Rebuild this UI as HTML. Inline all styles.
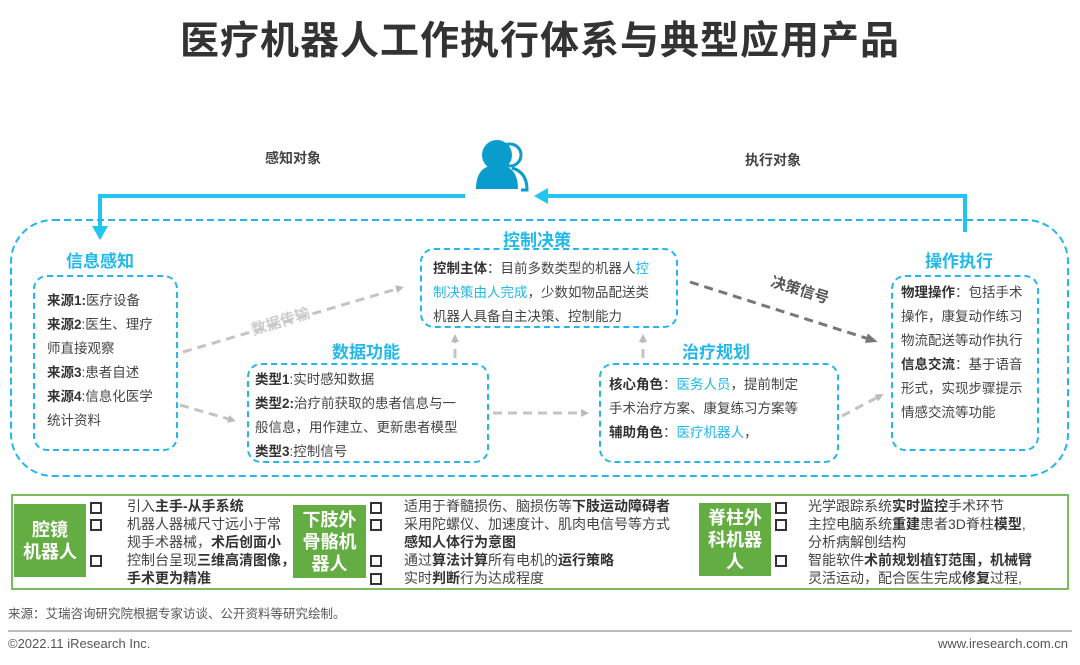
<!DOCTYPE html>
<html><head><meta charset="utf-8"><style>
body{margin:0;width:1080px;height:665px;background:#fff;position:relative;overflow:hidden;font-family:"Liberation Sans","Noto Sans CJK SC",sans-serif;color:#444}
.a{position:absolute}
.t{position:absolute;font-weight:bold;color:#22b8ea;font-size:17px}
.box{position:absolute;border:2px dashed #22b8ea;border-radius:14px;box-sizing:border-box;font-size:13.5px;line-height:24px;color:#444}
b{color:#333}
.bl{color:#22b8ea}
.g{position:absolute;background:#63ad43;color:#fff;font-weight:bold;font-size:18px;line-height:22px;text-align:center;display:flex;align-items:center;justify-content:center}
.l{position:absolute;font-size:14px;line-height:18px;color:#444;white-space:nowrap}
.sq{position:absolute;width:8px;height:8px;border:2px solid #333}
</style></head><body>
<div class="a" style="left:0;top:10px;width:1080px;text-align:center;font-size:39px;font-weight:bold;color:#333;letter-spacing:1px">医疗机器人工作执行体系与典型应用产品</div>
<div class="a" style="left:265px;top:148px;font-size:14px;font-weight:bold;color:#444">感知对象</div>
<div class="a" style="left:745px;top:150px;font-size:14px;font-weight:bold;color:#444">执行对象</div>
<svg class="a" style="left:0;top:0" width="1080" height="500">
<defs><marker id="g" markerWidth="8" markerHeight="8" refX="4" refY="4" orient="auto" markerUnits="userSpaceOnUse"><path d="M0,0L8,4L0,8z" fill="#bbb"/></marker>
<marker id="d" markerWidth="12" markerHeight="10" refX="6" refY="5" orient="auto" markerUnits="userSpaceOnUse"><path d="M0,0L12,5L0,10z" fill="#777"/></marker></defs>
<g fill="#0a9ccc"><circle cx="510" cy="155" r="11" fill="none" stroke="#0a9ccc" stroke-width="3"/><path d="M512,168 q15,4 15,22 h-6" fill="none" stroke="#0a9ccc" stroke-width="3"/>
<circle cx="497" cy="155" r="15"/><path d="M476,189 q0,-24 21,-24 q21,0 21,24 z"/></g>
<path d="M465,196 H100 V228" stroke="#22c5f0" stroke-width="4" fill="none"/>
<path d="M92,226 L108,226 L100,240z" fill="#22c5f0"/>
<path d="M965,232 V196 H545" stroke="#22c5f0" stroke-width="4" fill="none"/>
<path d="M534,196 L548,188 L548,204z" fill="#22c5f0"/>
<rect x="11" y="220" width="1057" height="256" rx="42" fill="none" stroke="#22b8ea" stroke-width="2" stroke-dasharray="7,4"/>
<g stroke="#c4c4c4" stroke-width="3" stroke-dasharray="9,6" fill="none">
<path d="M183,352 L400,288" marker-end="url(#g)"/>
<path d="M180,405 L232,420" marker-end="url(#g)"/>
<path d="M455,358 L455,338" marker-end="url(#g)"/>
<path d="M493,413 L585,413" marker-end="url(#g)"/>
<path d="M643,358 L643,338" marker-end="url(#g)"/>
<path d="M842,416 L880,396" marker-end="url(#g)"/>
</g>
<path d="M690,282 L872,340" stroke="#777" stroke-width="3" stroke-dasharray="9,6" fill="none" marker-end="url(#d)"/>
<text x="250" y="328" transform="rotate(-17 275 320)" font-size="15" font-weight="bold" fill="#ccc" font-family="Liberation Sans,Noto Sans CJK SC,sans-serif">数据传输</text>
<text x="770" y="295" transform="rotate(17 800 290)" font-size="15" font-weight="bold" fill="#555" font-family="Liberation Sans,Noto Sans CJK SC,sans-serif">决策信号</text>
</svg>
<div class="t" style="left:66px;top:247px">信息感知</div>
<div class="box" style="left:33px;top:275px;width:145px;height:176px;padding:12px 0 0 12px"><b>来源1:</b>医疗设备<br><b>来源2</b>:医生、理疗<br>师直接观察<br><b>来源3</b>:患者自述<br><b>来源4</b>:信息化医学<br>统计资料</div>
<div class="t" style="left:503px;top:226px">控制决策</div>
<div class="box" style="left:420px;top:248px;width:258px;height:80px;padding:7px 0 0 11px"><b>控制主体</b>：目前多数类型的机器人<span class="bl">控<br>制决策由人完成</span>，少数如物品配送类<br>机器人具备自主决策、控制能力</div>
<div class="t" style="left:332px;top:338px">数据功能</div>
<div class="box" style="left:247px;top:363px;width:242px;height:100px;padding:3px 0 0 6px"><b>类型1</b>:实时感知数据<br><b>类型2:</b>治疗前获取的患者信息与一<br>般信息，用作建立、更新患者模型<br><b>类型3</b>:控制信号</div>
<div class="t" style="left:682px;top:338px">治疗规划</div>
<div class="box" style="left:599px;top:363px;width:240px;height:100px;padding:8px 0 0 8px"><b>核心角色</b>：<span class="bl">医务人员</span>，提前制定<br>手术治疗方案、康复练习方案等<br><b>辅助角色</b>：<span class="bl">医疗机器人</span>，</div>
<div class="t" style="left:925px;top:247px">操作执行</div>
<div class="box" style="left:891px;top:275px;width:148px;height:176px;padding:4px 0 0 8px"><b>物理操作</b>：包括手术<br>操作，康复动作练习<br>物流配送等动作执行<br><b>信息交流</b>：基于语音<br>形式，实现步骤提示<br>情感交流等功能</div>

<div class="a" style="left:11px;top:494px;width:1054px;height:92px;border:2px solid #7bbd5e"></div>
<div class="g" style="left:14px;top:504px;width:72px;height:73px">腔镜<br>机器人</div>
<div class="g" style="left:293px;top:505px;width:73px;height:73px">下肢外<br>骨骼机<br>器人</div>
<div class="g" style="left:699px;top:503px;width:72px;height:73px">脊柱外<br>科机器<br>人</div>
<div class="sq" style="left:90px;top:502px"></div><div class="sq" style="left:90px;top:519px"></div><div class="sq" style="left:90px;top:555px"></div>
<div class="l" style="left:127px;top:497px">引入<b>主手-从手系统</b><br>机器人器械尺寸远小于常<br>规手术器械，<b>术后创面小</b><br>控制台呈现<b>三维高清图像，</b><br><b>手术更为精准</b></div>
<div class="sq" style="left:370px;top:502px"></div><div class="sq" style="left:370px;top:519px"></div><div class="sq" style="left:370px;top:555px"></div><div class="sq" style="left:370px;top:573px"></div>
<div class="l" style="left:404px;top:497px">适用于脊髓损伤、脑损伤等<b>下肢运动障碍者</b><br>采用陀螺仪、加速度计、肌肉电信号等方式<br><b>感知人体行为意图</b><br>通过<b>算法计算</b>所有电机的<b>运行策略</b><br>实时<b>判断</b>行为达成程度</div>
<div class="sq" style="left:775px;top:502px"></div><div class="sq" style="left:775px;top:519px"></div><div class="sq" style="left:775px;top:555px"></div>
<div class="l" style="left:808px;top:497px">光学跟踪系统<b>实时监控</b>手术环节<br>主控电脑系统<b>重建</b>患者3D脊柱<b>模型</b>,<br>分析病解刨结构<br>智能软件<b>术前规划植钉范围，机械臂</b><br>灵活运动，配合医生完成<b>修复</b>过程,</div>
<div class="a" style="left:8px;top:603px;font-size:12.5px;color:#555">来源：艾瑞咨询研究院根据专家访谈、公开资料等研究绘制。</div>
<div class="a" style="left:8px;top:630px;width:1064px;height:2px;background:#bbb"></div>
<div class="a" style="left:8px;top:636px;font-size:13px;color:#555">©2022.11 iResearch Inc.</div>
<div class="a" style="right:12px;top:636px;font-size:13px;color:#555">www.iresearch.com.cn</div>
</body></html>
